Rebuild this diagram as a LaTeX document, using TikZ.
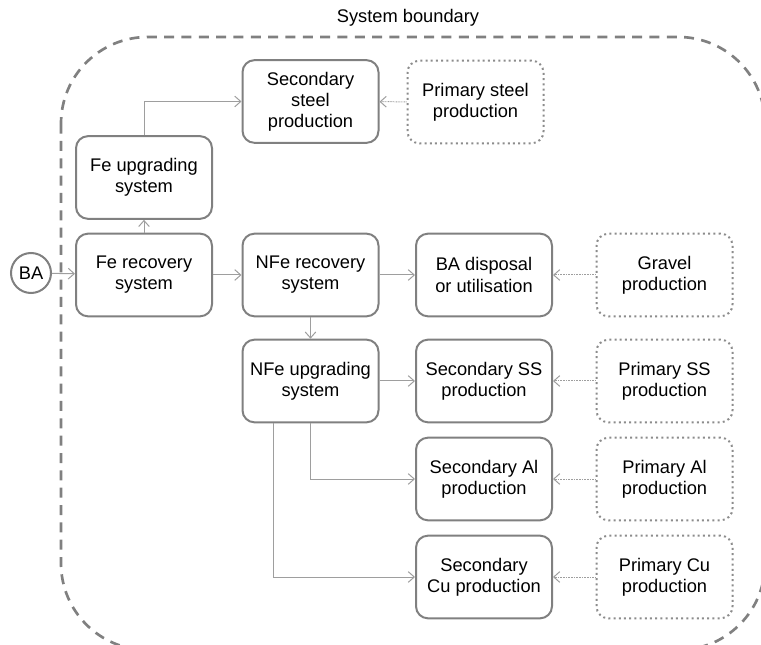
\documentclass[tikz,border=0pt]{standalone}
\usepackage{fontspec}
\setmainfont{Liberation Sans}
\usepackage{xcolor}
\usepackage{tikz}
\usetikzlibrary{arrows.meta,positioning}

\begin{document}
\begin{tikzpicture}[
      x=0.75pt, y=-0.75pt,
      every node/.style={font=\fontsize{13.7}{15.8}\selectfont, align=center},
      process/.style={rectangle, rounded corners=9pt, draw=black!50, line width=1.5pt, minimum width=102pt, minimum height=62pt, inner sep=1pt},
      avoided/.style={process, draw=black!45, dash pattern=on 1.5pt off 2.4pt},
      flow/.style={draw=black!38, line width=0.75pt, -{Straight Barb[length=4.5pt, width=8pt]}},
      substitution/.style={flow, dash pattern=on 0.6pt off 0.6pt}
    ]
      \useasboundingbox (0,0) rectangle (761,645);
      % System boundary
      \begin{scope}
        \clip (0,0) rectangle (761,645);
        \draw[black!50, line width=2pt, dash pattern=on 7.5pt off 5.5pt, rounded corners=65pt] (61,37) rectangle (765,650);
      \end{scope}
      \node (boundary) at (408,18) {System boundary};
      % Input
      \node[circle, draw=black!50, line width=1.5pt, minimum size=30pt, inner sep=0pt] (ba) at (31,273) {BA};
      % Fe line
      \node[process] (ferec) at (144,275) {Fe recovery\\system};
      \node[process] (feup) at (144,177.5) {Fe upgrading\\system};
      \node[process] (secsteel) at (310.5,101.5) {Secondary\\steel\\production};
      \node[avoided] (primsteel) at (475.5,102) {Primary steel\\production};
      % NFe line
      \node[process] (nferec) at (310.5,275) {NFe recovery\\system};
      \node[process] (badisp) at (484,275) {BA disposal\\or utilisation};
      \node[avoided] (gravel) at (664.5,275) {Gravel\\production};
      \node[process] (nfeup) at (310.5,381) {NFe upgrading\\system};
      \node[process] (secss) at (484,381) {Secondary SS\\production};
      \node[avoided] (primss) at (664.5,381) {Primary SS\\production};
      \node[process] (secal) at (484,479) {Secondary Al\\production};
      \node[avoided] (primal) at (664.5,479) {Primary Al\\production};
      \node[process] (seccu) at (484,577) {Secondary\\Cu production};
      \node[avoided] (primcu) at (664.5,577) {Primary Cu\\production};
      % Flows
      \draw[flow] (ba) -- (ferec);
      \draw[flow] (ferec) -- (feup);
      \draw[flow] (feup.north) |- (secsteel.west);
      \draw[flow] (ferec) -- (nferec);
      \draw[flow] (nferec) -- (badisp);
      \draw[flow] (nferec) -- (nfeup);
      \draw[flow] (nfeup) -- (secss);
      \draw[flow] (nfeup.south) |- (secal.west);
      \draw[flow] ([xshift=-28pt]nfeup.south) |- (seccu.west);
      % Substituted production
      \draw[substitution] (primsteel) -- (secsteel);
      \draw[substitution] (gravel) -- (badisp);
      \draw[substitution] (primss) -- (secss);
      \draw[substitution] (primal) -- (secal);
      \draw[substitution] (primcu) -- (seccu);
    \end{tikzpicture}
\end{document}
